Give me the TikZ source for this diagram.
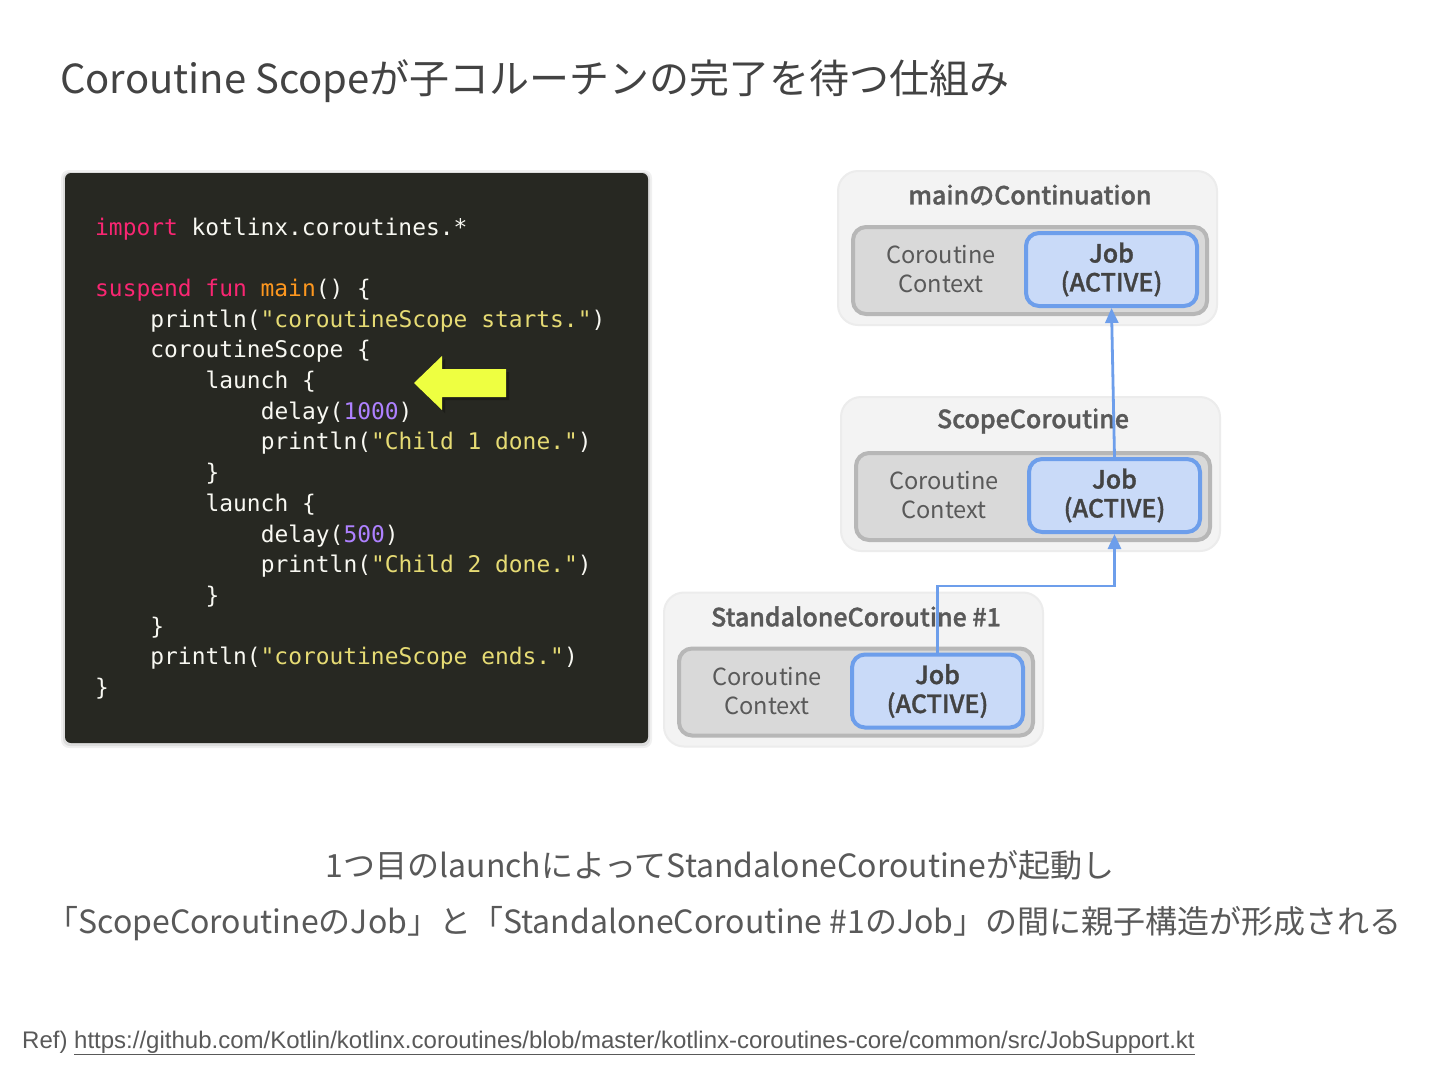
\documentclass[tikz,border=0pt]{standalone}
\usepackage{fontspec}
\setmainfont{Noto Sans CJK JP}
\newfontfamily\medfont{Noto Sans CJK JP Medium}[FakeBold=1.3]
\newfontfamily\codefont{DejaVu Sans Mono}
\newfontfamily\reffont{Liberation Sans}
\usetikzlibrary{arrows.meta}
\definecolor{codebg}{HTML}{272822}
\definecolor{codefg}{HTML}{F8F8F2}
\definecolor{kwcol}{HTML}{F92672}
\definecolor{fncol}{HTML}{FD971F}
\definecolor{strcol}{HTML}{E6DB74}
\definecolor{numcol}{HTML}{AE81FF}
\definecolor{hiyellow}{HTML}{EEFF41}
\definecolor{outerfill}{HTML}{F3F3F3}
\definecolor{outerline}{HTML}{ECECEC}
\definecolor{innerfill}{HTML}{D9D9D9}
\definecolor{innerline}{HTML}{B7B7B7}
\definecolor{jobfill}{HTML}{C9DAF8}
\definecolor{jobline}{HTML}{6D9EEB}
\definecolor{txtgray}{HTML}{595959}
\definecolor{txtdark}{HTML}{434343}
\newcommand\kw[1]{\textcolor{kwcol}{#1}}
\newcommand\fnc[1]{\textcolor{fncol}{#1}}
\newcommand\str[1]{\textcolor{strcol}{#1}}
\newcommand\num[1]{\textcolor{numcol}{#1}}
\newcommand\codeline[3]{\node[codeln] (cl#1) at ({95+13.8*#2},{235+30.7*#1}) {#3};}
\newcommand\cobox[4]{%
  \node[outerbox] (#1) at (#2,#3) {};
  \node[innerbox] (#1in) at ({#2+2.5},{#3+22.5}) {};
  \node[jobbox] (#1job) at ({#2+84},{#3+21.5}) {};
  \node[boxtitle] (#1title) at ({#2+2.5},{#3-53}) {#4};
  \node[ctxtext] (#1ctx) at ({#2-86.5},{#3+21}) {Coroutine\\Context};
  \node[jobtext] (#1jt) at (#1job) {Job\\(ACTIVE)};
}
\begin{document}
\begin{tikzpicture}[x=1pt,y=-1pt,
  codeln/.style={anchor=base west,inner sep=0pt,text=codefg,font=\codefont\fontsize{22.9}{28}\selectfont},
  outerbox/.style={draw=outerline,line width=2pt,fill=outerfill,rounded corners=20pt,minimum width=379pt,minimum height=154pt,inner sep=0pt},
  innerbox/.style={draw=innerline,line width=4pt,fill=innerfill,rounded corners=13pt,minimum width=354pt,minimum height=87pt,inner sep=0pt},
  jobbox/.style={draw=jobline,line width=4pt,fill=jobfill,rounded corners=13pt,minimum width=171pt,minimum height=73pt,inner sep=0pt},
  boxtitle/.style={inner sep=0pt,text=txtgray,font=\medfont\fontsize{25}{29}\selectfont},
  ctxtext/.style={inner sep=0pt,align=center,text=txtgray,font=\fontsize{23.6}{29}\selectfont},
  jobtext/.style={inner sep=0pt,align=center,text=txtdark,font=\medfont\fontsize{25}{29}\selectfont},
  blueline/.style={draw=jobline,line width=2.8pt,-{Triangle[length=15pt,width=13pt]}},
  caption/.style={anchor=base,inner sep=0pt,text=txtgray,font=\fontsize{32}{38}\selectfont}
]
\useasboundingbox (0,0) rectangle (1440,1080);
\fill[white] (0,0) rectangle (1440,1080);

% title
\node[anchor=base west,inner sep=0pt,text=txtdark,font=\fontsize{40}{48}\selectfont] (title) at (60,93)
  {Coroutine Scopeが子コルーチンの完了を待つ仕組み};

% code box with shadow
\fill[black,opacity=0.06,rounded corners=8pt] (61,170) rectangle (652,748);
\fill[black,opacity=0.08,rounded corners=7pt] (63,172) rectangle (650,746);
\node[fill=codebg,rounded corners=6pt,minimum width=583pt,minimum height=570pt,inner sep=0pt] (code) at (356.5,458) {};

\codeline{0}{0}{\kw{import} kotlinx.coroutines.*}
\codeline{2}{0}{\kw{suspend} \kw{fun} \fnc{main}() \{}
\codeline{3}{4}{println(\str{"coroutineScope starts."})}
\codeline{4}{4}{coroutineScope \{}
\codeline{5}{8}{launch \{}
\codeline{6}{12}{delay(\num{1000})}
\codeline{7}{12}{println(\str{"Child 1 done."})}
\codeline{8}{8}{\}}
\codeline{9}{8}{launch \{}
\codeline{10}{12}{delay(\num{500})}
\codeline{11}{12}{println(\str{"Child 2 done."})}
\codeline{12}{8}{\}}
\codeline{13}{4}{\}}
\codeline{14}{4}{println(\str{"coroutineScope ends."})}
\codeline{15}{0}{\}}

% yellow arrow
\fill[black,opacity=0.25] (417,386) -- (445,359) -- (445,372) -- (509,372) -- (509,400) -- (445,400) -- (445,413) -- cycle;
\fill[hiyellow] (414,383) -- (442,356) -- (442,369) -- (506,369) -- (506,397) -- (442,397) -- (442,410) -- cycle;

% coroutine boxes
\cobox{mc}{1027.5}{248}{mainのContinuation}
\cobox{sc}{1030.5}{474}{ScopeCoroutine}
\cobox{st}{853.5}{669.5}{StandaloneCoroutine \#1}

% connectors
\coordinate (bend) at (938,586);
\draw[blueline] (scjob.north) -- (mcjob.south);
\draw[blueline] (stjob.north) -- (stjob.north |- bend) -| (scjob.south);

% captions
\node[caption] (cap1) at (720,877) {1つ目のlaunchによってStandaloneCoroutineが起動し};
\node[caption] (cap2) at (724,933) {「ScopeCoroutineのJob」と「StandaloneCoroutine \#1のJob」の間に親子構造が形成される};

% reference
\node[anchor=base west,inner sep=0pt,text=txtgray,font=\reffont\fontsize{24}{28}\selectfont] (ref) at (22,1048)
  {Ref) \underline{https://github.com/Kotlin/kotlinx.coroutines/blob/master/kotlinx-coroutines-core/common/src/JobSupport.kt}};
\end{tikzpicture}
\end{document}
